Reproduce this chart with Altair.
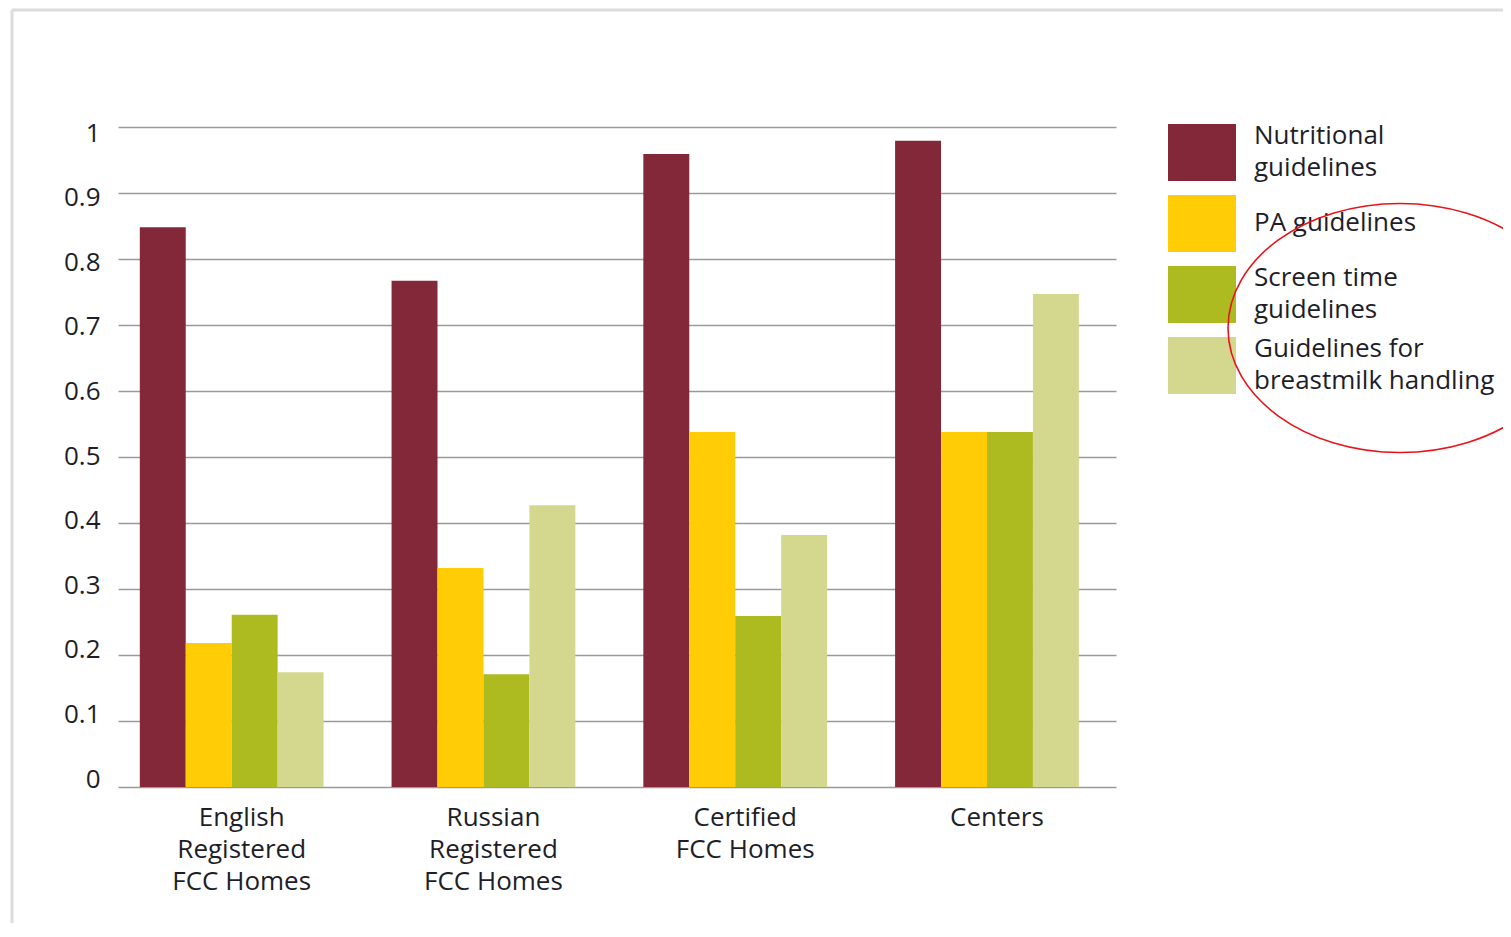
import altair as alt
import pandas as pd

groups = ["English|Registered|FCC Homes", "Russian|Registered|FCC Homes", "Certified|FCC Homes", "Centers"]
series = ["Nutritional guidelines", "PA guidelines", "Screen time guidelines", "Guidelines for breastmilk handling"]
series_labels = ["Nutritional|guidelines", "PA guidelines", "Screen time|guidelines", "Guidelines for|breastmilk handling"]
colors = ["#832838", "#FFCC05", "#ADBB21", "#D4D88F"]

nutritional = [0.848, 0.767, 0.959, 0.979]
pa = [0.218, 0.332, 0.538, 0.538]
screen = [0.261, 0.171, 0.259, 0.538]
breastmilk = [0.174, 0.427, 0.382, 0.747]

values = [nutritional, pa, screen, breastmilk]
rows = []
for s, vals in zip(series, values):
    for g, v in zip(groups, vals):
        rows.append({"group": g, "series": s, "value": v})
df = pd.DataFrame(rows)
leg_df = pd.DataFrame({"series": series, "label": series_labels})

FONT = "Open Sans"
TXT = "#1e1e28"

color_scale = alt.Scale(domain=series, range=colors)

bars = alt.Chart(df).mark_bar(stroke=None).encode(
    x=alt.X("group:N", sort=groups, title=None,
            scale=alt.Scale(paddingInner=0.27, paddingOuter=0.117, align=0.37),
            axis=alt.Axis(labelExpr="split(datum.label, '|')", labelAngle=0,
                          labelFontSize=26, labelFont=FONT, labelColor=TXT,
                          labelLineHeight=32, labelPadding=17, labelOffset=10,
                          ticks=False, domain=False, grid=False)),
    xOffset=alt.XOffset("series:N", sort=series, scale=alt.Scale(paddingInner=0, paddingOuter=0)),
    y=alt.Y("value:Q", title=None, scale=alt.Scale(domain=[0, 1], nice=False),
            axis=alt.Axis(values=[0, 0.1, 0.2, 0.3, 0.4, 0.5, 0.6, 0.7, 0.8, 0.9, 1.0],
                          format=".1~f", labelFontSize=26, labelFont=FONT, labelColor=TXT,
                          labelPadding=18, ticks=False, domain=False,
                          labelOffset=alt.ExprRef("-8 + 14 * datum.value"),
                          grid=True, gridColor="#9a9a9a", gridWidth=1.6)),
    color=alt.Color("series:N", scale=color_scale, legend=None),
)

leg_y = alt.Y("series:N", sort=series, title=None, axis=None,
              scale=alt.Scale(domain=series, range=[-10, 274], paddingInner=0.2, paddingOuter=0.1))

leg_rect = alt.Chart(leg_df).mark_rect().encode(
    x=alt.value(1050), x2=alt.value(1118),
    y=leg_y,
    color=alt.Color("series:N", scale=color_scale, legend=None),
)

leg_text = alt.Chart(leg_df).transform_calculate(
    off="28 - (length(split(datum.label, '|')) - 1) * 16"
).mark_text(align="left", baseline="middle", lineBreak="|",
            fontSize=26, font=FONT, color=TXT, lineHeight=32).encode(
    x=alt.value(1136),
    y=leg_y,
    yOffset=alt.YOffset("off:Q", scale=None),
    text="label:N",
)

ellipse_path = "M -1.3815 0 A 1.3815 1 0 1 0 1.3815 0 A 1.3815 1 0 1 0 -1.3815 0 Z"
ellipse = alt.Chart(pd.DataFrame({"a": [1]})).mark_point(
    shape=ellipse_path, size=62001, filled=False, stroke="#e8141b", strokeWidth=1.6, opacity=1
).encode(x=alt.value(1282), y=alt.value(201))

frame_left = alt.Chart(pd.DataFrame({"a": [1]})).mark_rule(color="#dcdcdc", strokeWidth=3).encode(
    x=alt.value(-106), y=alt.value(-117), y2=alt.value(810))
frame_top = alt.Chart(pd.DataFrame({"a": [1]})).mark_rule(color="#dcdcdc", strokeWidth=3).encode(
    x=alt.value(-106), x2=alt.value(1400), y=alt.value(-117))

chart = alt.layer(frame_left, frame_top, bars, leg_rect, leg_text, ellipse).resolve_scale(
    y="independent"
).properties(
    width=998, height=660,
    view=alt.ViewBackground(stroke=None, strokeWidth=0),
    autosize=alt.AutoSizeParams(type="none"),
    padding={"left": 110, "top": 119, "right": 387, "bottom": 136},
).configure_view(stroke=None, strokeWidth=0).configure(background="white")

chart.save("out.html", embed_options={"renderer": "svg", "actions": False})
